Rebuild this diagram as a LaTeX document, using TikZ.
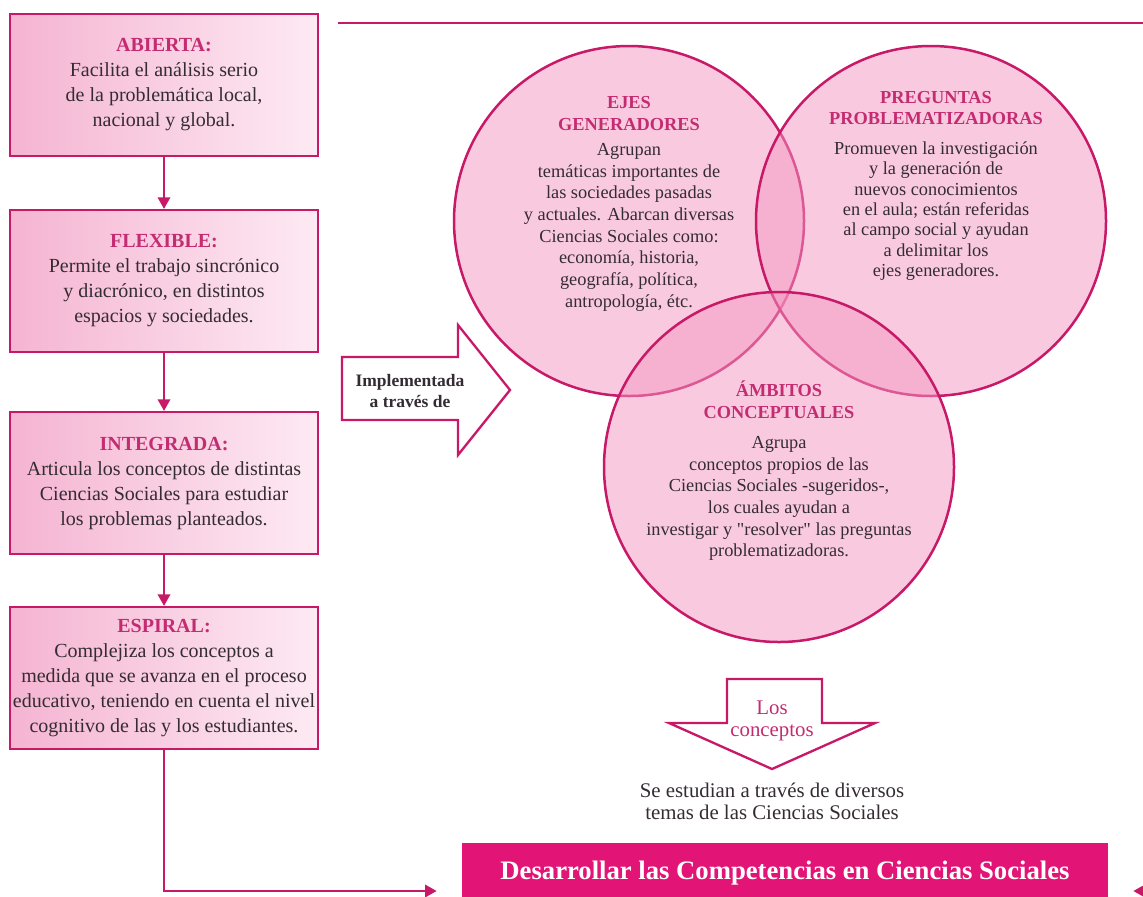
\documentclass[tikz,border=0pt]{standalone}
\usepackage{fontspec}
\setmainfont{Liberation Serif}
\usepackage{tikz}
\usetikzlibrary{positioning,calc,arrows.meta}
\definecolor{rosa}{RGB}{200,24,104}
\definecolor{rosatit}{RGB}{196,44,114}
\definecolor{rosaizq}{RGB}{245,180,210}
\definecolor{rosader}{RGB}{253,234,243}
\definecolor{rosacirc}{RGB}{243,150,192}
\definecolor{rosafuerte}{RGB}{226,20,118}
\definecolor{texto}{RGB}{52,44,50}
\tikzset{rasgo/.style={draw=rosa, line width=1.3pt, left color=rosaizq, right color=rosader, minimum width=184.8pt, minimum height=85.2pt, inner sep=1pt, align=center, text=texto, font=\fontsize{12}{15}\selectfont}}
\tikzset{conj/.style={circle, draw=rosa, line width=1.5pt, fill=rosacirc, fill opacity=0.5, draw opacity=1, minimum size=210pt, inner sep=0pt}}
\tikzset{ctext/.style={align=center, text=texto, font=\fontsize{11}{13}\selectfont}}
\tikzset{flecha/.style={draw=rosa, line width=1.2pt, -{Triangle[length=7pt,width=7.5pt]}}}
\tikzset{linea/.style={draw=rosa, line width=1.2pt}}
\tikzset{gorda/.style={draw=rosa, line width=1.4pt, fill=white}}
\newcommand{\tit}[1]{\textcolor{rosatit}{\textbf{#1}}}

\begin{document}
\begin{tikzpicture}[x=0.6pt, y=-0.6pt]
\useasboundingbox (0,0) rectangle (1143,896);
% columna de rasgos
\node[rasgo] (abierta) at (164,85) {\tit{ABIERTA:}\\Facilita el análisis serio\\de la problemática local,\\nacional y global.};
\node[rasgo] (flexible) at (164,281) {\tit{FLEXIBLE:}\\Permite el trabajo sincrónico\\y diacrónico, en distintos\\espacios y sociedades.};
\node[rasgo] (integrada) at (164,483) {\tit{INTEGRADA:}\\Articula los conceptos de distintas\\Ciencias Sociales para estudiar\\los problemas planteados.};
\node[rasgo] (espiral) at (164,678) {\tit{ESPIRAL:}\\Complejiza los conceptos a\\medida que se avanza en el proceso\\educativo, teniendo en cuenta el nivel\\cognitivo de las y los estudiantes.};
\draw[flecha] (abierta) -- (flexible);
\draw[flecha] (flexible) -- (integrada);
\draw[flecha] (integrada) -- (espiral);

% linea superior
\coordinate (lineaizq) at (338,23);
\coordinate (lineader) at (1143,23);
\draw[linea] (lineaizq) -- (lineader);

% flecha implementada
\draw[gorda] (342,357) -- (458,357) -- (458,325) -- (510,390) -- (458,455) -- (458,420) -- (342,420) -- cycle;
\node[align=center, text=texto, font=\bfseries\fontsize{10.5}{12.6}\selectfont] (impl) at (410,391) {Implementada\\a través de};

% conjuntos
\node[conj] (ejes) at (629,221) {};
\node[conj] (preg) at (931,221) {};
\node[conj] (ambitos) at (779,467) {};
\node[ctext] (ejestx) at (629,204) {\tit{EJES}\\\tit{GENERADORES}\\[2pt]Agrupan\\temáticas importantes de\\las sociedades pasadas\\y actuales. Abarcan diversas\\Ciencias Sociales como:\\economía, historia,\\geografía, política,\\antropología, étc.};
\node[ctext, font=\fontsize{11}{12.2}\selectfont] (pregtx) at (936,186) {\tit{PREGUNTAS}\\\tit{PROBLEMATIZADORAS}\\[6pt]Promueven la investigación\\y la generación de\\nuevos conocimientos\\en el aula; están referidas\\al campo social y ayudan\\a delimitar los\\ejes generadores.};
\node[ctext] (ambtx) at (779,471) {\tit{ÁMBITOS}\\\tit{CONCEPTUALES}\\[5pt]Agrupa\\conceptos propios de las\\Ciencias Sociales -sugeridos-,\\los cuales ayudan a\\investigar y \textquotedbl resolver\textquotedbl{} las preguntas\\problematizadoras.};

% los conceptos
\draw[gorda] (727,679) -- (822,679) -- (822,723) -- (875,723) -- (772,769) -- (669,723) -- (727,723) -- cycle;
\node[align=center, text=rosatit, font=\fontsize{12.5}{13}\selectfont] (conc) at (772,721) {Los\\conceptos};
\node[ctext, font=\fontsize{12.5}{13.2}\selectfont] (estud) at (772,801) {Se estudian a través de diversos\\temas de las Ciencias Sociales};

% meta
\node[fill=rosafuerte, text=white, font=\bfseries\fontsize{16}{18}\selectfont, minimum width=387.6pt, minimum height=36pt] (meta) at (785,873) {Desarrollar las Competencias en Ciencias Sociales};
\draw[flecha, shorten >=15pt] (espiral.south) |- ([yshift=-10.8pt]meta.west);
\coordinate (derecha) at (1170,891);
\draw[flecha, shorten >=15pt] (derecha) -- ([yshift=-10.8pt]meta.east);
\end{tikzpicture}
\end{document}
